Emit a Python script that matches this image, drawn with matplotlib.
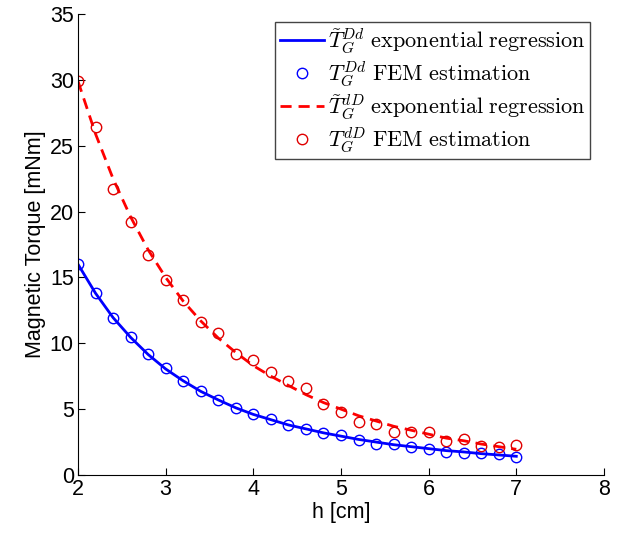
import numpy as np
import matplotlib
matplotlib.use('Agg')
import matplotlib.pyplot as plt

# Datos
h = [2.0, 2.2, 2.4, 2.6, 2.8, 3.0, 3.2, 3.4, 3.6, 3.8, 4.0, 4.2, 4.4,
     4.6, 4.8, 5.0, 5.2, 5.4, 5.6, 5.8, 6.0, 6.2, 6.4, 6.6, 6.8, 7.0]

fem_Dd = [16.0, 13.8, 11.9, 10.5, 9.2, 8.1, 7.1, 6.4, 5.7, 5.1, 4.6, 4.25, 3.8,
          3.5, 3.15, 3.0, 2.65, 2.35, 2.33, 2.1, 1.95, 1.77, 1.69, 1.65, 1.57, 1.39]
reg_Dd = [16.0, 13.8, 11.95, 10.45, 9.15, 8.05, 7.15, 6.35, 5.7, 5.1, 4.6, 4.2, 3.8,
          3.5, 3.2, 2.95, 2.7, 2.5, 2.3, 2.15, 2.0, 1.85, 1.75, 1.62, 1.52, 1.42]

fem_dD = [29.9, 26.4, 21.7, 19.2, 16.7, 14.8, 13.3, 11.6, 10.8, 9.2, 8.7, 7.8, 7.1,
          6.6, 5.4, 4.8, 4.0, 3.9, 3.3, 3.3, 3.3, 2.6, 2.7, 2.2, 2.1, 2.25]
reg_dD = [29.9, 25.9, 22.5, 19.6, 17.1, 15.0, 13.2, 11.7, 10.4, 9.3, 8.3, 7.5, 6.8,
          6.1, 5.5, 5.0, 4.5, 4.1, 3.7, 3.4, 3.1, 2.8, 2.6, 2.35, 2.15, 1.95]

labels = [r'$\tilde{T}_G^{Dd}\ \mathrm{exponential\ regression}$',
          r'$T_G^{Dd}\ \mathrm{FEM\ estimation}$',
          r'$\tilde{T}_G^{dD}\ \mathrm{exponential\ regression}$',
          r'$T_G^{dD}\ \mathrm{FEM\ estimation}$']

plt.rcParams['font.family'] = ['Liberation Sans', 'DejaVu Sans']
plt.rcParams['mathtext.fontset'] = 'cm'

fig = plt.figure(figsize=(6.22, 5.4), dpi=100)
ax = fig.add_axes([0.1254, 0.1204, 0.8456, 0.8536])

ax.plot(h, reg_Dd, '-', color='#0000ff', lw=2, label=labels[0])
ax.plot(h, fem_Dd, 'o', mfc='none', mec='#0000ff', ms=7.5, mew=1, label=labels[1])
ax.plot(h, reg_dD, '--', color='#ff0000', lw=2, dashes=(4, 2.5), label=labels[2])
ax.plot(h, fem_dD, 'o', mfc='none', mec='#e00000', ms=7.5, mew=1, label=labels[3])

ax.set_xlim(2, 8)
ax.set_ylim(0, 35)
ax.set_xticks(range(2, 9))
ax.set_yticks(range(0, 36, 5))
ax.spines['top'].set_visible(False)
ax.spines['right'].set_visible(False)
ax.tick_params(direction='in', labelsize=15.5, length=5, pad=3)
ax.set_xlabel('h [cm]', fontsize=15.5, labelpad=1)
ax.set_ylabel('Magnetic Torque [mNm]', fontsize=15.5, labelpad=3)

leg = ax.legend(loc='upper right', bbox_to_anchor=(0.973, 0.983), borderaxespad=0,
                fontsize=16, fancybox=False, edgecolor='#444444', framealpha=1,
                handlelength=2.0, handletextpad=0.15, borderpad=0.2,
                labelspacing=0.2)
leg.get_frame().set_linewidth(1)

plt.savefig('out.png', dpi=100)
